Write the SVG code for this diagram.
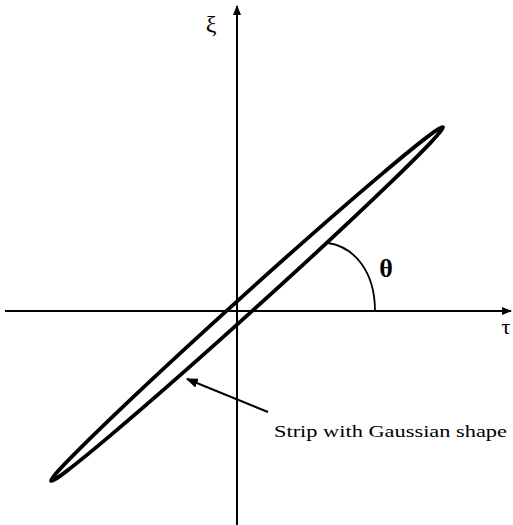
<svg xmlns="http://www.w3.org/2000/svg" width="513" height="525" viewBox="0 0 513 525">
<style>
.ax{stroke:#000;stroke-width:2;fill:none}
.lbl{font-family:"Liberation Serif","Times New Roman",serif;fill:#000}
</style>
<defs>
<marker id="ah" viewBox="0 0 10 10" refX="9" refY="5" markerWidth="10" markerHeight="10" markerUnits="userSpaceOnUse" orient="auto">
<path d="M0,1 L10,5 L0,9 Z" fill="#000"/>
</marker>
<marker id="ah2" viewBox="0 0 10 10" refX="9" refY="5" markerWidth="12" markerHeight="12" markerUnits="userSpaceOnUse" orient="auto">
<path d="M0,1 L10,5 L0,9 Z" fill="#000"/>
</marker>
</defs>
<g id="axes">
<line class="ax" x1="237" y1="525" x2="237" y2="6" marker-end="url(#ah)"/>
<line class="ax" x1="5" y1="311" x2="511" y2="311" marker-end="url(#ah)"/>
</g>
<g id="strip">
<ellipse cx="247" cy="304" rx="264" ry="8.7" transform="rotate(-42.08 247 304)" fill="none" stroke="#000" stroke-width="3.8"/>
</g>
<g id="angle">
<path d="M328,243 C354,247 375,271 375,311" fill="none" stroke="#000" stroke-width="1.8"/>
</g>
<g id="connectors">
<line x1="268" y1="412" x2="187" y2="379" stroke="#000" stroke-width="2" marker-end="url(#ah2)"/>
</g>
<g id="labels">
<text class="lbl" x="211" y="32" font-size="24" text-anchor="middle">ξ</text>
<text class="lbl" x="506" y="334" font-size="22" text-anchor="middle">τ</text>
<text class="lbl" x="386" y="277" font-size="26" text-anchor="middle" font-weight="bold" font-family="Liberation Sans, Arial, sans-serif">θ</text>
<text class="lbl" x="274" y="437" font-size="17" textLength="233" lengthAdjust="spacingAndGlyphs">Strip with Gaussian shape</text>
</g>
</svg>
